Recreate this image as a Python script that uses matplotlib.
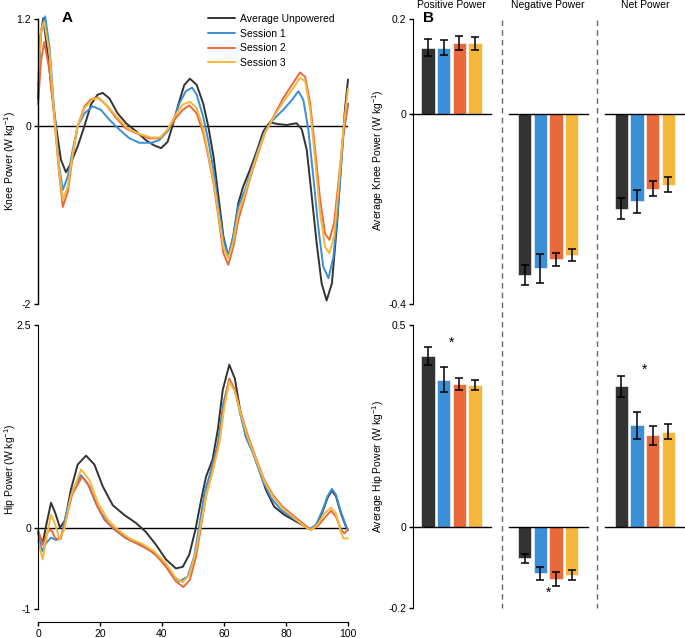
import matplotlib
matplotlib.use("Agg")
import matplotlib.pyplot as plt
from matplotlib.lines import Line2D

plt.rcParams['font.family'] = ['Liberation Sans', 'DejaVu Sans']
plt.rcParams['axes.unicode_minus'] = False
plt.rcParams['mathtext.default'] = 'regular'

# ---------------- data: knee power curves (% gait cycle, W/kg) ----------------
knee_black_x = [0, 0.8, 1.7, 3.1, 4.5, 5.8, 7.4, 9.0, 10.6, 12.8, 15.0, 17.1, 19.2, 20.9, 23.0, 25.7,
                28.4, 31.6, 34.8, 37.5, 39.7, 41.8, 43.4, 45.1, 47.2, 49.0, 51.2, 53.3, 54.9, 56.6,
                58.2, 59.8, 61.4, 63.0, 64.6, 66.2, 68.4, 70.5, 72.7, 74.8, 77.5, 80.2, 83.4, 85.1,
                86.7, 88.3, 89.9, 91.5, 93.1, 94.8, 96.4, 98.0, 99.0, 100]
knee_black_y = [0.30, 1.00, 1.21, 0.82, 0.37, 0.0, -0.38, -0.52, -0.42, -0.23, 0.0, 0.24, 0.35, 0.37,
                0.31, 0.14, 0.03, -0.06, -0.16, -0.22, -0.25, -0.18, 0.0, 0.22, 0.46, 0.53, 0.46, 0.25,
                0.0, -0.34, -0.79, -1.24, -1.47, -1.24, -0.87, -0.68, -0.49, -0.29, -0.06, 0.04, 0.02,
                0.01, 0.03, -0.04, -0.27, -0.79, -1.32, -1.77, -1.96, -1.77, -1.13, -0.31, 0.18, 0.52]

knee_s1_x = [0, 1.0, 2.3, 3.7, 5.3, 6.7, 8.0, 9.6, 11.2, 12.8, 15.0, 17.6, 20.3, 23.0, 26.2, 29.5,
             32.7, 36.5, 39.1, 41.8, 43.4, 45.6, 47.7, 49.7, 51.2, 53.3, 54.9, 56.6, 58.2, 59.8, 61.4,
             63.0, 64.6, 66.8, 68.9, 71.0, 73.2, 75.9, 79.1, 81.9, 84.0, 85.6, 87.2, 88.8, 90.4, 92.0,
             93.7, 95.3, 96.9, 98.5, 100]
knee_s1_y = [0.44, 1.08, 1.23, 0.89, 0.14, -0.42, -0.72, -0.57, -0.27, 0.0, 0.14, 0.22, 0.18, 0.07,
             -0.04, -0.14, -0.19, -0.19, -0.16, -0.06, 0.03, 0.25, 0.39, 0.43, 0.35, 0.10, -0.16, -0.49,
             -0.91, -1.27, -1.47, -1.24, -0.91, -0.72, -0.49, -0.27, -0.06, 0.07, 0.18, 0.29, 0.39,
             0.29, -0.04, -0.57, -1.13, -1.58, -1.71, -1.47, -0.87, -0.12, 0.25]

knee_s2_x = [0, 1.0, 2.0, 3.7, 5.3, 6.7, 8.0, 9.6, 11.2, 12.8, 15.0, 17.1, 19.2, 21.9, 25.2, 28.4,
             31.6, 35.9, 39.1, 41.8, 44.0, 46.7, 48.8, 51.2, 53.3, 54.9, 56.6, 58.2, 59.8, 61.4, 63.0,
             64.6, 66.8, 68.9, 71.0, 73.2, 75.9, 79.1, 81.9, 84.5, 86.2, 87.8, 89.4, 91.0, 92.6, 94.0,
             95.5, 96.9, 98.5, 100]
knee_s2_y = [0.24, 0.74, 0.94, 0.63, 0.07, -0.49, -0.91, -0.74, -0.34, 0.0, 0.22, 0.30, 0.32, 0.24,
             0.09, -0.03, -0.08, -0.14, -0.14, -0.05, 0.07, 0.18, 0.23, 0.14, -0.08, -0.34, -0.64,
             -1.02, -1.43, -1.56, -1.36, -1.06, -0.79, -0.53, -0.31, -0.08, 0.10, 0.31, 0.46, 0.60,
             0.55, 0.25, -0.27, -0.83, -1.21, -1.28, -1.09, -0.64, -0.08, 0.24]

knee_s3_x = [0, 1.0, 2.0, 3.7, 5.3, 6.7, 8.0, 9.6, 11.2, 12.8, 15.0, 17.6, 19.8, 22.5, 25.7, 29.0,
             32.7, 36.5, 39.4, 41.8, 44.0, 46.7, 49.0, 51.2, 53.3, 54.9, 56.6, 58.2, 59.8, 61.4, 63.0,
             64.6, 66.8, 68.9, 71.0, 73.2, 75.9, 79.1, 81.9, 84.5, 86.2, 87.8, 89.4, 91.0, 92.6, 94.0,
             95.5, 96.9, 98.5, 100]
knee_s3_y = [0.50, 1.08, 1.17, 0.82, 0.10, -0.46, -0.83, -0.68, -0.31, 0.0, 0.20, 0.30, 0.31, 0.22,
             0.09, -0.03, -0.09, -0.13, -0.13, -0.04, 0.10, 0.24, 0.27, 0.20, -0.03, -0.31, -0.61,
             -0.98, -1.36, -1.49, -1.30, -0.98, -0.76, -0.51, -0.29, -0.08, 0.09, 0.27, 0.40, 0.54,
             0.50, 0.18, -0.38, -0.98, -1.36, -1.43, -1.24, -0.72, -0.04, 0.42]

# ---------------- data: hip power curves ----------------
hip_black_x = [0, 1.5, 2.8, 4.2, 5.6, 7.1, 8.8, 10.6, 12.8, 15.5, 18.2, 20.9, 24.1, 27.8, 31.6, 34.8,
               38.1, 41.3, 44.5, 46.7, 48.8, 50.8, 52.6, 54.2, 56.3, 58.0, 59.6, 61.7, 63.5, 65.2,
               67.1, 69.2, 71.4, 73.5, 76.2, 79.5, 83.2, 86.5, 88.0, 89.7, 91.8, 93.4, 94.8, 96.1,
               97.7, 99.4, 100]
hip_black_y = [-0.05, -0.19, 0.06, 0.31, 0.18, 0.0, 0.10, 0.47, 0.78, 0.89, 0.78, 0.51, 0.28, 0.16,
               0.06, -0.05, -0.21, -0.39, -0.50, -0.48, -0.33, -0.02, 0.34, 0.63, 0.84, 1.21, 1.70,
               2.01, 1.84, 1.45, 1.12, 0.94, 0.71, 0.47, 0.26, 0.16, 0.08, 0.01, -0.02, 0.02, 0.20,
               0.37, 0.46, 0.39, 0.18, 0.01, -0.02]

hip_s1_x = [0, 1.3, 2.6, 4.2, 5.8, 7.4, 9.0, 11.2, 13.9, 16.0, 18.7, 21.4, 24.6, 28.4, 32.2, 35.9,
            39.7, 42.9, 45.6, 48.3, 50.4, 52.0, 53.7, 55.8, 58.0, 59.8, 61.7, 63.5, 65.2, 67.1, 69.8,
            72.4, 75.2, 78.4, 82.2, 85.4, 87.5, 89.7, 91.8, 93.4, 94.8, 96.1, 97.7, 99.4, 100]
hip_s1_y = [-0.07, -0.29, -0.19, -0.12, -0.15, -0.13, 0.16, 0.47, 0.65, 0.55, 0.30, 0.10, -0.02, -0.13,
            -0.19, -0.27, -0.39, -0.56, -0.66, -0.60, -0.35, 0.02, 0.43, 0.71, 1.04, 1.54, 1.82, 1.70,
            1.41, 1.12, 0.88, 0.59, 0.37, 0.22, 0.12, 0.04, -0.02, 0.04, 0.22, 0.39, 0.48, 0.41, 0.20,
            0.02, -0.03]

hip_s2_x = [0, 1.5, 3.1, 4.2, 5.6, 7.1, 8.8, 11.0, 14.2, 16.6, 19.2, 22.5, 25.7, 29.5, 33.8, 37.5,
            41.3, 44.5, 46.9, 49.0, 51.0, 52.6, 54.2, 56.3, 58.5, 60.1, 61.7, 63.5, 65.5, 67.6, 70.3,
            73.0, 75.7, 78.9, 82.7, 85.9, 88.0, 90.2, 92.4, 94.5, 96.1, 97.7, 98.8, 100]
hip_s2_y = [-0.02, -0.21, -0.05, -0.02, -0.13, -0.14, 0.06, 0.41, 0.63, 0.51, 0.26, 0.06, -0.05, -0.15,
            -0.23, -0.31, -0.48, -0.66, -0.73, -0.64, -0.35, 0.02, 0.39, 0.71, 1.08, 1.54, 1.84, 1.70,
            1.41, 1.15, 0.86, 0.59, 0.41, 0.26, 0.14, 0.04, -0.02, 0.02, 0.12, 0.21, 0.14, -0.02,
            -0.07, -0.02]

hip_s3_x = [0, 1.5, 2.8, 4.2, 5.6, 6.9, 8.5, 10.6, 13.9, 16.6, 19.2, 22.5, 25.7, 29.5, 33.8, 37.5,
            41.3, 44.5, 46.7, 48.8, 50.8, 52.4, 54.2, 56.3, 58.5, 60.1, 61.7, 63.5, 65.5, 67.6, 70.3,
            73.0, 75.7, 78.9, 82.7, 85.9, 88.0, 90.2, 92.4, 94.5, 96.1, 97.7, 98.5, 100]
hip_s3_y = [-0.15, -0.39, -0.11, 0.16, 0.04, -0.14, -0.02, 0.39, 0.72, 0.59, 0.32, 0.10, -0.02, -0.13,
            -0.20, -0.29, -0.44, -0.62, -0.67, -0.58, -0.31, 0.02, 0.39, 0.69, 1.04, 1.49, 1.80, 1.68,
            1.39, 1.12, 0.84, 0.57, 0.39, 0.24, 0.12, 0.02, -0.03, 0.04, 0.18, 0.25, 0.18, -0.05,
            -0.13, -0.13]

series_labels = ['Average Unpowered', 'Session 1', 'Session 2', 'Session 3']
colors = ['#333333', '#3a8fd6', '#e8693a', '#f5b83c']

# ---------------- data: average power bars ----------------
groups = ['Positive Power', 'Negative Power', 'Net Power']
knee_bar_vals = [[0.140, 0.140, 0.149, 0.149],
                 [-0.339, -0.325, -0.306, -0.297],
                 [-0.199, -0.184, -0.157, -0.149]]
knee_bar_err = [[0.018, 0.016, 0.015, 0.014],
                [0.021, 0.031, 0.013, 0.013],
                [0.022, 0.025, 0.016, 0.016]]
hip_bar_vals = [[0.423, 0.365, 0.354, 0.352],
                [-0.077, -0.114, -0.129, -0.118],
                [0.348, 0.252, 0.227, 0.236]]
hip_bar_err = [[0.023, 0.031, 0.014, 0.013],
               [0.011, 0.016, 0.017, 0.012],
               [0.025, 0.034, 0.024, 0.019]]
# significance stars: (group index, y value), centred over each group
hip_stars = [(0, 0.457), (1, -0.163), (2, 0.389)]

# ---------------- layout ----------------
W, H = 685, 638
fig = plt.figure(figsize=(W / 100, H / 100), dpi=100)


def rect(l, t, r, b):
    return [l / W, 1 - b / H, (r - l) / W, (b - t) / H]


FS = 7.5
LW = 1.4

# knee line plot
axk = fig.add_axes(rect(38, 19, 348, 304))
knee_x = [knee_black_x, knee_s1_x, knee_s2_x, knee_s3_x]
knee_y = [knee_black_y, knee_s1_y, knee_s2_y, knee_s3_y]
axk.axhline(0, color='black', lw=1.0, zorder=1)
for xs, ys, c, lab in zip(knee_x, knee_y, colors, series_labels):
    axk.plot(xs, ys, color=c, lw=LW, label=lab, clip_on=False, zorder=2,
             solid_joinstyle='round', solid_capstyle='round')
axk.set_xlim(0, 100)
axk.set_ylim(-2, 1.2)
axk.set_yticks([1.2, 0, -2])
axk.set_yticklabels(['1.2', '0', '-2'])
axk.set_xticks([])
for s in ['top', 'right', 'bottom']:
    axk.spines[s].set_visible(False)
axk.spines['left'].set_linewidth(1.0)
axk.tick_params(axis='y', labelsize=FS, length=3, width=1.0, pad=2)
axk.legend(loc='upper left', bbox_to_anchor=(208 / W, 1 - 14 / H), bbox_transform=fig.transFigure,
           frameon=False, fontsize=FS, handlelength=2.6, handletextpad=0.45, labelspacing=0.45,
           borderaxespad=0, borderpad=0)

# hip line plot
axh = fig.add_axes(rect(38, 325, 348, 622))
hip_x = [hip_black_x, hip_s1_x, hip_s2_x, hip_s3_x]
hip_y = [hip_black_y, hip_s1_y, hip_s2_y, hip_s3_y]
axh.axhline(0, color='black', lw=1.0, zorder=1)
for xs, ys, c in zip(hip_x, hip_y, colors):
    axh.plot(xs, ys, color=c, lw=LW, clip_on=False, zorder=2,
             solid_joinstyle='round', solid_capstyle='round')
axh.set_xlim(0, 100)
axh.set_ylim(-1.16, 2.5)
axh.set_yticks([2.5, 0, -1])
axh.set_yticklabels(['2.5', '0', '-1'])
axh.set_xticks([0, 20, 40, 60, 80, 100])
axh.spines['left'].set_bounds(-1, 2.5)
axh.spines['bottom'].set_bounds(0, 100)
for s in ['top', 'right']:
    axh.spines[s].set_visible(False)
axh.tick_params(labelsize=FS, length=3, width=1.0, pad=2)

fig.text(10 / W, 1 - 161 / H, r'Knee Power (W kg$^{-1}$)', rotation=90, ha='center', va='center', fontsize=FS)
fig.text(10 / W, 1 - 469 / H, r'Hip Power (W kg$^{-1}$)', rotation=90, ha='center', va='center', fontsize=FS)
fig.text(62 / W, 1 - 18 / H, 'A', fontsize=11, fontweight='bold', ha='left', va='center')

# bar panels
bar_off = [-0.243, -0.081, 0.081, 0.243]
bar_w = 0.136
xl = (-0.398, 2.415)


def bar_panel(ax, vals, errs, ylim, yticks, yticklabels):
    for g in range(len(groups)):
        for i in range(4):
            ax.bar(g + bar_off[i], vals[g][i], width=bar_w, color=colors[i], edgecolor='white',
                   linewidth=0.4, zorder=2)
            ax.errorbar(g + bar_off[i], vals[g][i], yerr=errs[g][i], color='black', lw=1.1,
                        capsize=3.0, capthick=1.1, zorder=3)
        ax.plot([g - 0.41, g + 0.41], [0, 0], color='black', lw=1.0, zorder=4, clip_on=False)
    ax.set_xlim(*xl)
    ax.set_ylim(*ylim)
    ax.set_yticks(yticks)
    ax.set_yticklabels(yticklabels)
    ax.set_xticks([])
    for s in ['top', 'right', 'bottom']:
        ax.spines[s].set_visible(False)
    ax.tick_params(axis='y', labelsize=FS, length=3, width=1.0, pad=2)


axkb = fig.add_axes(rect(413, 19, 685, 304))
bar_panel(axkb, knee_bar_vals, knee_bar_err, (-0.4, 0.2), [0.2, 0, -0.4], ['0.2', '0', '-0.4'])
axhb = fig.add_axes(rect(413, 325, 685, 608))
bar_panel(axhb, hip_bar_vals, hip_bar_err, (-0.2, 0.5), [0.5, 0, -0.2], ['0.5', '0', '-0.2'])
for g, y in hip_stars:
    axhb.text(g, y, '*', fontsize=10, ha='center', va='center')

for g, name in enumerate(groups):
    axkb.text(g, 1.05, name, transform=axkb.get_xaxis_transform(), ha='center', va='center',
              fontsize=FS, clip_on=False)

fig.text(378 / W, 1 - 160 / H, r'Average Knee Power (W kg$^{-1}$)', rotation=90, ha='center', va='center', fontsize=FS)
fig.text(378 / W, 1 - 467 / H, r'Average Hip Power (W kg$^{-1}$)', rotation=90, ha='center', va='center', fontsize=FS)
fig.text(423 / W, 1 - 18 / H, 'B', fontsize=11, fontweight='bold', ha='left', va='center')

for xp in (502, 597):
    fig.add_artist(Line2D([xp / W, xp / W], [1 - 20 / H, 1 - 608 / H], transform=fig.transFigure,
                          color='#666666', lw=1.0, linestyle=(0, (4, 3))))

fig.savefig('out.png', dpi=100)
